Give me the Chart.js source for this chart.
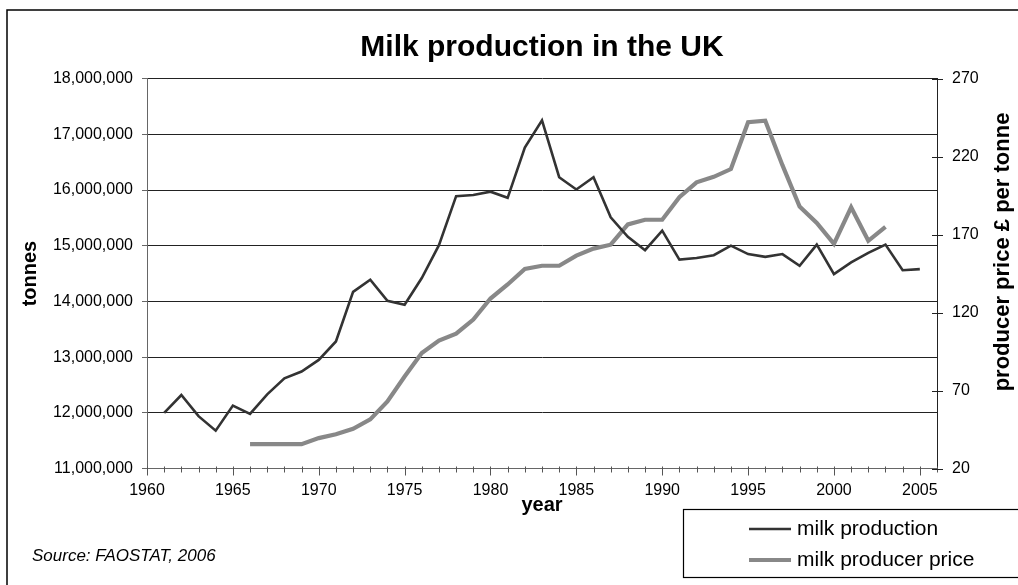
<!DOCTYPE html>
<html>
<head>
<meta charset="utf-8">
<script src="https://cdn.jsdelivr.net/npm/chart.js@4/dist/chart.umd.min.js"></script>
<style>
  html, body { margin: 0; padding: 0; background: #fff; }
  canvas { display: block; }
</style>
</head>
<body>
<canvas id="c" width="1018" height="585"></canvas>
<script>
// UK milk production (tonnes), 1961-2005
const years = [1961, 1962, 1963, 1964, 1965, 1966, 1967, 1968, 1969, 1970,
               1971, 1972, 1973, 1974, 1975, 1976, 1977, 1978, 1979, 1980,
               1981, 1982, 1983, 1984, 1985, 1986, 1987, 1988, 1989, 1990,
               1991, 1992, 1993, 1994, 1995, 1996, 1997, 1998, 1999, 2000,
               2001, 2002, 2003, 2004, 2005];
const production = [12000000, 12320000, 11940000, 11680000, 12130000, 11980000, 12330000, 12620000, 12740000, 12950000,
                    13280000, 14170000, 14390000, 14010000, 13940000, 14420000, 15010000, 15890000, 15910000, 15970000,
                    15860000, 16760000, 17250000, 16230000, 16010000, 16230000, 15510000, 15160000, 14920000, 15270000,
                    14750000, 14780000, 14830000, 15000000, 14850000, 14800000, 14850000, 14640000, 15020000, 14490000,
                    14700000, 14870000, 15020000, 14560000, 14580000];

// Milk producer price (GBP per tonne), 1966-2003
const priceYears = [1966, 1967, 1968, 1969, 1970, 1971, 1972, 1973, 1974, 1975,
                    1976, 1977, 1978, 1979, 1980, 1981, 1982, 1983, 1984, 1985,
                    1986, 1987, 1988, 1989, 1990, 1991, 1992, 1993, 1994, 1995,
                    1996, 1997, 1998, 1999, 2000, 2001, 2002, 2003];
const price = [35.6, 35.6, 35.6, 35.6, 39.5, 42.0, 45.5, 51.5, 63.0, 79.0,
               94.0, 102.0, 106.5, 115.5, 129.0, 138.0, 148.0, 150.0, 150.0, 156.5,
               161.0, 163.5, 176.5, 179.5, 179.5, 194.0, 203.5, 207.0, 212.0, 242.0,
               243.0, 214.5, 188.0, 177.5, 164.0, 187.5, 166.0, 175.0];

const FONT = "'Liberation Sans', Arial, Helvetica, sans-serif";

// Page furniture: white background, outer frame, secondary axis title,
// source note, framed legend and the small tick marks on x / right axes.
const furniture = {
  id: 'furniture',
  beforeDraw(chart) {
    const ctx = chart.ctx;
    ctx.save();
    ctx.fillStyle = '#fff';
    ctx.fillRect(0, 0, chart.width, chart.height);
    ctx.restore();
  },
  afterDraw(chart) {
    const ctx = chart.ctx;
    const x = chart.scales.x, y1 = chart.scales.y1;
    ctx.save();

    // outer frame
    ctx.strokeStyle = '#000';
    ctx.lineWidth = 1.5;
    ctx.beginPath();
    ctx.moveTo(7, chart.height + 2);
    ctx.lineTo(7, 10);
    ctx.lineTo(chart.width + 2, 10);
    ctx.stroke();

    // x-axis tick marks: every year, longer every five years
    ctx.strokeStyle = '#555';
    ctx.lineWidth = 1;
    const base = Math.round(x.top) + 0.5;
    for (let yr = x.min; yr <= x.max; yr++) {
      const px = Math.round(x.getPixelForValue(yr)) + 0.5;
      const major = yr % 5 === 0;
      ctx.beginPath();
      ctx.moveTo(px, base - 3);
      ctx.lineTo(px, base + (major ? 6 : 3));
      ctx.stroke();
    }

    // right axis tick marks crossing the axis line
    ctx.strokeStyle = '#222';
    y1.ticks.forEach(t => {
      const py = Math.round(y1.getPixelForValue(t.value)) + 0.5;
      ctx.beginPath();
      ctx.moveTo(y1.left - 5, py);
      ctx.lineTo(y1.left + 6, py);
      ctx.stroke();
    });

    // secondary axis title
    ctx.fillStyle = '#000';
    ctx.font = 'bold 22px ' + FONT;
    ctx.textAlign = 'center';
    ctx.textBaseline = 'middle';
    ctx.translate(1003, 252);
    ctx.rotate(-Math.PI / 2);
    ctx.fillText('producer price £ per tonne', 0, 0);
    ctx.setTransform(1, 0, 0, 1, 0, 0);

    // source note
    ctx.font = 'italic 17px ' + FONT;
    ctx.textAlign = 'left';
    ctx.textBaseline = 'alphabetic';
    ctx.fillText('Source: FAOSTAT, 2006', 32, 561);

    // legend box
    const lx = 683, ly = 509, lh = 68;
    ctx.strokeStyle = '#000';
    ctx.lineWidth = 1.2;
    ctx.strokeRect(lx + 0.5, ly + 0.5, chart.width - lx + 10, lh);
    const rows = [529, 560];
    chart.data.datasets.forEach((ds, i) => {
      ctx.strokeStyle = ds.borderColor;
      ctx.lineWidth = ds.borderWidth;
      ctx.beginPath();
      ctx.moveTo(749, rows[i]);
      ctx.lineTo(791, rows[i]);
      ctx.stroke();
      ctx.fillStyle = '#000';
      ctx.font = '21px ' + FONT;
      ctx.textBaseline = 'middle';
      ctx.fillText(ds.label, 797, rows[i]);
    });
    ctx.restore();
  }
};

new Chart(document.getElementById('c'), {
  type: 'line',
  data: {
    datasets: [
      {
        label: 'milk production',
        data: years.map((yr, i) => ({ x: yr, y: production[i] })),
        yAxisID: 'y',
        borderColor: '#333333',
        borderWidth: 2.6,
        pointRadius: 0,
        tension: 0,
        fill: false
      },
      {
        label: 'milk producer price',
        data: priceYears.map((yr, i) => ({ x: yr, y: price[i] })),
        yAxisID: 'y1',
        borderColor: '#888888',
        borderWidth: 4.2,
        pointRadius: 0,
        tension: 0,
        fill: false
      }
    ]
  },
  options: {
    responsive: false,
    animation: false,
    devicePixelRatio: 1,
    layout: { padding: 0 },
    plugins: {
      legend: { display: false },
      tooltip: { enabled: false },
      title: {
        display: true,
        fullSize: false,
        text: 'Milk production in the UK',
        color: '#000',
        font: { family: FONT, size: 30, weight: 'bold', lineHeight: 1.2 },
        padding: { top: 30, bottom: 12.6 }
      }
    },
    scales: {
      x: {
        type: 'linear',
        position: 'bottom',
        min: 1960,
        max: 2006,
        afterFit(s) { s.height = 116.5; },
        ticks: {
          stepSize: 1,
          autoSkip: false,
          maxRotation: 0,
          padding: 12,
          color: '#000',
          font: { family: FONT, size: 16 },
          callback: v => (v % 5 === 0 && v <= 2005) ? String(v) : ''
        },
        grid: { display: false, drawTicks: false },
        border: { display: true, color: '#666', width: 1 },
        title: {
          display: true,
          text: 'year',
          color: '#000',
          font: { family: FONT, size: 20, weight: 'bold', lineHeight: 1.2 },
          padding: { top: 0, bottom: 68 }
        }
      },
      y: {
        position: 'left',
        min: 11000000,
        max: 18000000,
        afterFit(s) { s.width = 147; },
        ticks: {
          stepSize: 1000000,
          padding: 9,
          color: '#000',
          font: { family: FONT, size: 16 },
          callback: v => v.toLocaleString('en-US')
        },
        grid: { color: '#222', tickColor: '#666', tickLength: 5, lineWidth: 1 },
        border: { display: true, color: '#666', width: 1 },
        title: {
          display: true,
          text: 'tonnes',
          color: '#000',
          font: { family: FONT, size: 20, weight: 'bold', lineHeight: 1.2 },
          padding: { top: 18, bottom: 0 }
        }
      },
      y1: {
        position: 'right',
        min: 20,
        max: 270,
        afterFit(s) { s.width = 81; },
        ticks: {
          stepSize: 50,
          padding: 15,
          color: '#000',
          font: { family: FONT, size: 16 }
        },
        grid: { display: false, drawTicks: false },
        border: { display: true, color: '#222', width: 1 }
      }
    }
  },
  plugins: [furniture]
});
</script>
</body>
</html>
